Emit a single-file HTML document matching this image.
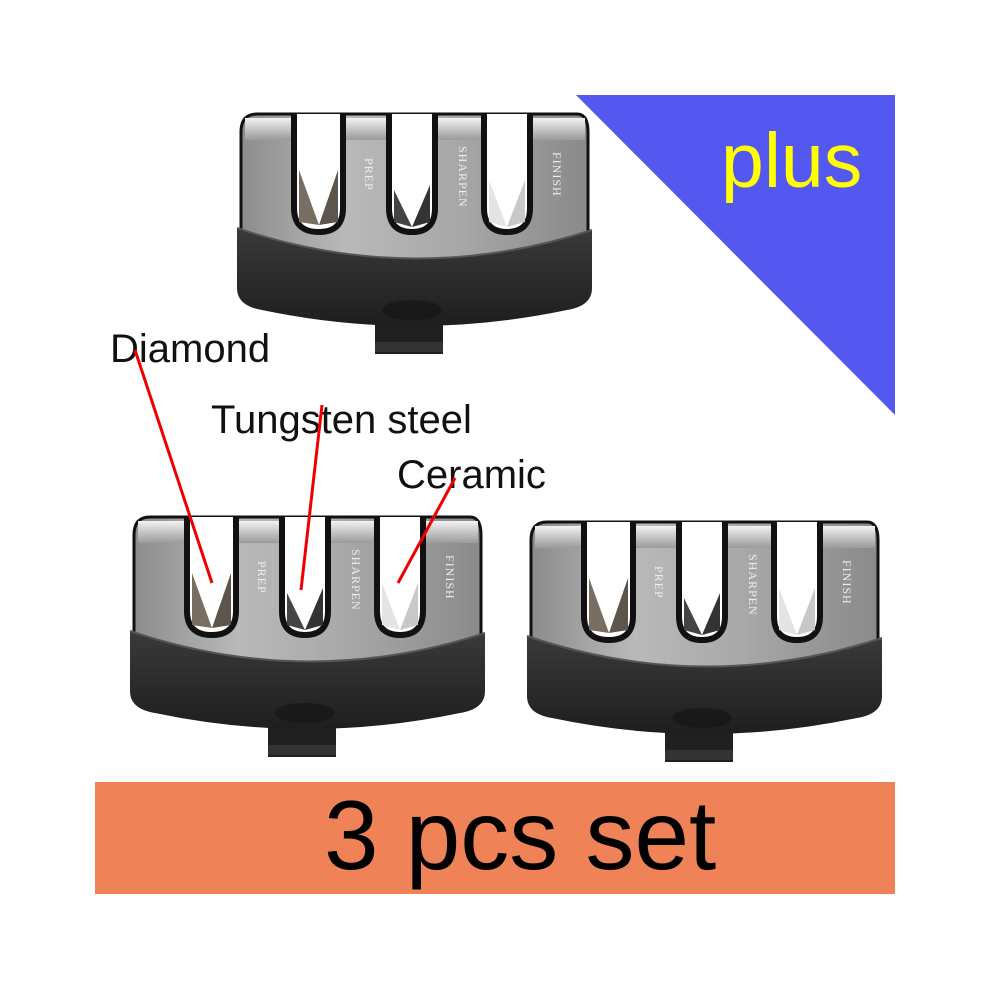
<!DOCTYPE html>
<html><head><meta charset="utf-8"><style>
html,body{margin:0;padding:0;background:#fff;width:990px;height:990px;overflow:hidden}
svg{display:block}
.lbl{font-family:"Liberation Sans",sans-serif;font-size:40px;fill:#111}
.eng{font-family:"Liberation Serif",serif;font-size:12px;fill:#eee;letter-spacing:1px}
</style></head><body>
<svg width="990" height="990" viewBox="0 0 990 990" xmlns="http://www.w3.org/2000/svg">
<defs>
<linearGradient id="steel" x1="0" y1="0" x2="1" y2="0">
<stop offset="0" stop-color="#8c8c8c"/><stop offset="0.3" stop-color="#b9b9b9"/><stop offset="0.6" stop-color="#a9a9a9"/><stop offset="1" stop-color="#8a8a8a"/>
</linearGradient>
<linearGradient id="top" x1="0" y1="0" x2="0" y2="1">
<stop offset="0" stop-color="#f2f2f2"/><stop offset="1" stop-color="#9a9a9a"/>
</linearGradient>
<linearGradient id="base" x1="0" y1="0" x2="0" y2="1">
<stop offset="0" stop-color="#3a3a3a"/><stop offset="1" stop-color="#1e1e1e"/>
</linearGradient>
<g id="sh">
<rect x="138" y="190" width="68" height="54" fill="#202020"/>
<rect x="138" y="232" width="68" height="10" fill="#333"/>
<path d="M4,22 Q4,4 20,4 H340 Q351,4 351,22 V170 H4 Z" fill="url(#steel)" stroke="#111" stroke-width="3"/>
<rect x="8" y="8" width="340" height="22" fill="url(#top)"/>
<path d="M0,118 Q177,178 355,120 V178 Q355,196 330,200 Q177,232 25,200 Q0,196 0,178 Z" fill="url(#base)"/>
<path d="M0,118 Q177,178 355,120" fill="none" stroke="#555" stroke-width="2"/>
<ellipse cx="175" cy="200" rx="30" ry="10" fill="#151515" opacity="0.7"/>
<g stroke="#111" stroke-width="6">
<path d="M57,4 V98 Q57,122 82,122 Q106,122 106,98 V4" fill="#fff"/>
<path d="M152,4 V98 Q152,122 175,122 Q198,122 198,98 V4" fill="#fff"/>
<path d="M247,4 V98 Q247,122 270,122 Q293,122 293,98 V4" fill="#fff"/>
</g>
<path d="M62,60 L82,115 L62,112 Z" fill="#7a6e62"/>
<path d="M101,60 L82,115 L101,112 Z" fill="#5d544c"/>
<path d="M157,80 L175,117 L157,112 Z" fill="#444"/>
<path d="M193,75 L175,117 L193,112 Z" fill="#333"/>
<path d="M252,70 L270,117 L252,112 Z" fill="#e4e4e4"/>
<path d="M288,70 L270,117 L288,112 Z" fill="#c8c8c8"/>
</g>
</defs>

<polygon points="576,95 895,95 895,415" fill="#5558f0"/>
<text x="721" y="187" font-family="Liberation Sans,sans-serif" font-size="77" fill="#ffff00">plus</text>

<g transform="translate(237,110)"><use href="#sh"/>
<text class="eng" transform="translate(128,48) rotate(90)">PREP</text>
<text class="eng" transform="translate(222,36) rotate(90)">SHARPEN</text>
<text class="eng" transform="translate(316,42) rotate(90)">FINISH</text></g>

<g transform="translate(130,513)"><use href="#sh"/>
<text class="eng" transform="translate(128,48) rotate(90)">PREP</text>
<text class="eng" transform="translate(222,36) rotate(90)">SHARPEN</text>
<text class="eng" transform="translate(316,42) rotate(90)">FINISH</text></g>

<g transform="translate(527,518)"><use href="#sh"/>
<text class="eng" transform="translate(128,48) rotate(90)">PREP</text>
<text class="eng" transform="translate(222,36) rotate(90)">SHARPEN</text>
<text class="eng" transform="translate(316,42) rotate(90)">FINISH</text></g>

<text class="lbl" x="110" y="362">Diamond</text>
<text class="lbl" x="211" y="433">Tungsten steel</text>
<text class="lbl" x="397" y="488">Ceramic</text>
<g stroke="#ee0000" stroke-width="3">
<line x1="135" y1="350" x2="212" y2="583"/>
<line x1="322" y1="405" x2="301" y2="590"/>
<line x1="455" y1="478" x2="398" y2="583"/>
</g>

<rect x="95" y="782" width="800" height="112" fill="#f08258"/>
<text x="324" y="869" font-family="Liberation Sans,sans-serif" font-size="98" fill="#000">3 pcs set</text>
</svg>
</body></html>
